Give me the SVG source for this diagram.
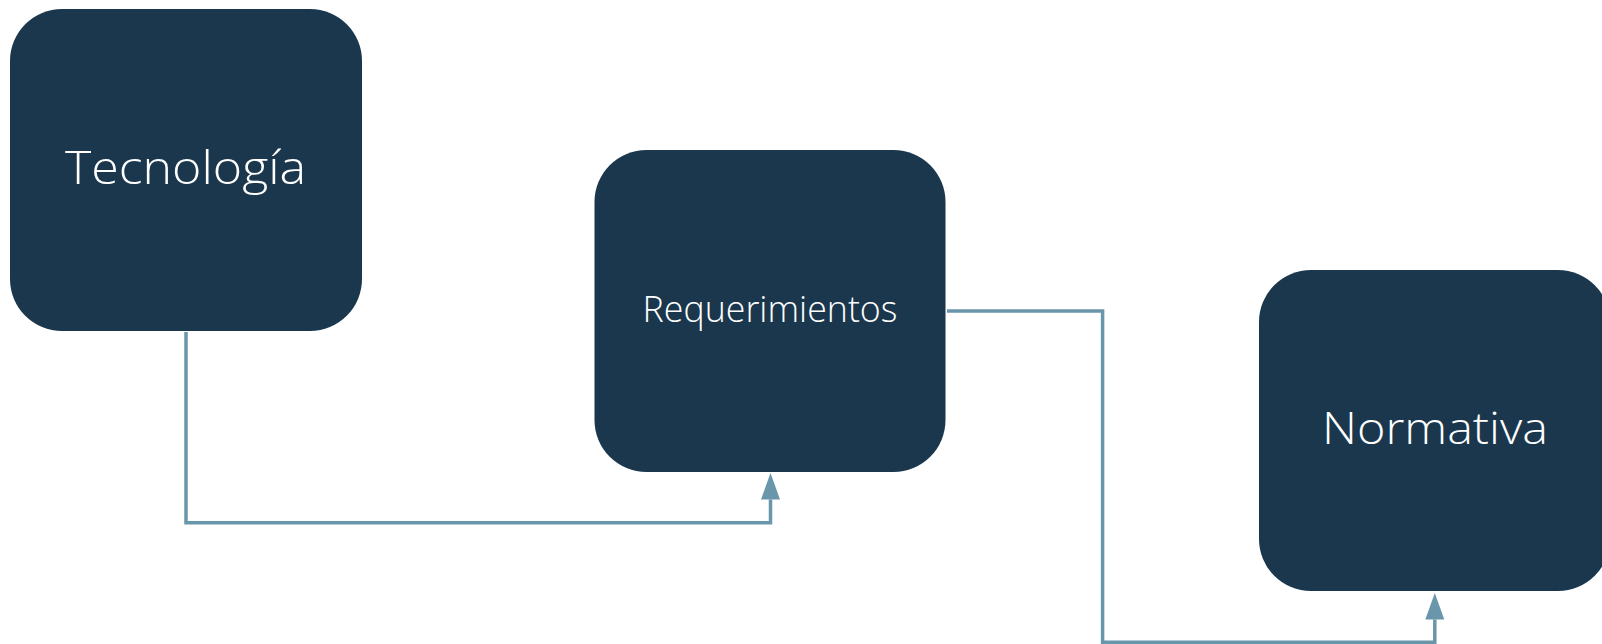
<svg xmlns="http://www.w3.org/2000/svg" width="1602" height="644" viewBox="0 0 1602 644">
<defs>
<style>
.node{fill:#1B374D;}
.lbl{fill:#FFFFFF;font-family:"Open Sans","Liberation Sans",Arial,sans-serif;font-weight:300;text-anchor:middle;}
.conn{fill:none;stroke:#6A96AC;stroke-width:3.5;stroke-linejoin:miter;}
</style>
<marker id="arr" viewBox="0 -10 27 20" refX="0" refY="0" markerWidth="27" markerHeight="20" markerUnits="userSpaceOnUse" orient="auto">
<path d="M0 -9.5 L26.5 0 L0 9.5 Z" fill="#6A96AC"/>
</marker>
</defs>
<rect width="1602" height="644" fill="#FFFFFF"/>
<g id="connectors">
<path class="conn" d="M186 332 V522.7 H770.5 V499.5" marker-end="url(#arr)"/>
<path class="conn" d="M947 311 H1102.6 V642.3 H1434.8 V619.5" marker-end="url(#arr)"/>
</g>
<g id="node-tecnologia">
<rect class="node" x="10" y="9" width="352" height="322" rx="52" ry="52"/>
<text class="lbl" x="185.5" y="184" font-size="46" textLength="241" lengthAdjust="spacingAndGlyphs">Tecnología</text>
</g>
<g id="node-requerimientos">
<rect class="node" x="594.5" y="150" width="351" height="322" rx="52" ry="52"/>
<text class="lbl" x="770" y="321.5" font-size="36" textLength="255" lengthAdjust="spacingAndGlyphs">Requerimientos</text>
</g>
<g id="node-normativa">
<rect class="node" x="1259" y="270" width="351" height="321" rx="52" ry="52"/>
<text class="lbl" x="1435" y="444" font-size="45" textLength="226" lengthAdjust="spacingAndGlyphs">Normativa</text>
</g>
</svg>
